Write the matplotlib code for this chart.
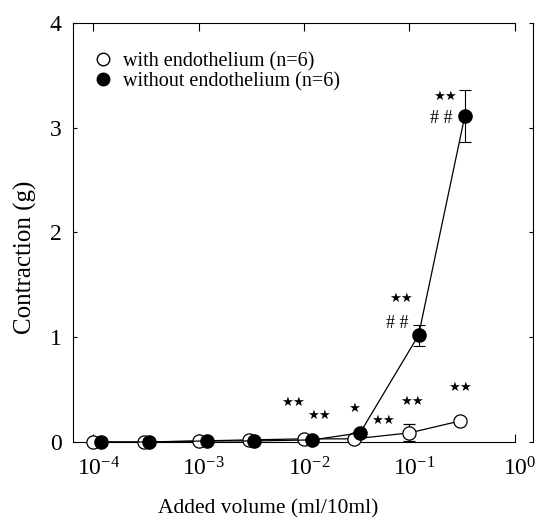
import matplotlib
matplotlib.use('Agg')
import matplotlib.pyplot as plt
from matplotlib.lines import Line2D
from matplotlib.transforms import ScaledTranslation

plt.rcParams['font.family'] = ['Liberation Serif', 'DejaVu Serif']
plt.rcParams['mathtext.fontset'] = 'custom'
plt.rcParams['mathtext.rm'] = 'Liberation Serif'
plt.rcParams['mathtext.it'] = 'Liberation Serif:italic'

# with endothelium (open circles)
x_with = [1e-4, 3e-4, 1e-3, 3e-3, 1e-2, 3e-2, 1e-1, 3e-1]
y_with = [0.0, 0.0, 0.01, 0.02, 0.03, 0.03, 0.087, 0.20]
e_with = [0.01, 0.005, 0.01, 0.01, 0.01, 0.02, 0.08, 0.03]

# without endothelium (filled circles), drawn slightly shifted
x_without = [1.17e-4, 3.35e-4, 1.2e-3, 3.35e-3, 1.2e-2, 3.4e-2, 1.22e-1, 3.35e-1]
y_without = [0.0, 0.0, 0.01, 0.01, 0.02, 0.087, 1.02, 3.11]
e_without = [0.005, 0.005, 0.005, 0.005, 0.01, 0.02, 0.10, 0.25]

labels = ['with endothelium (n=6)', 'without endothelium (n=6)']

xticks = [1e-4, 1e-3, 1e-2, 1e-1, 1e0]
xticklabels = [r'$10^{-4}$', r'$10^{-3}$', r'$10^{-2}$', r'$10^{-1}$', r'$10^{0}$']
yticks = [0, 1, 2, 3, 4]

# significance marks (text, x, y)
marks = [
    ('**', 0.217, 3.30), ('##', 0.202, 3.09),
    ('**', 0.0826, 1.374), ('##', 0.076, 1.126),
    ('**', 0.301, 0.525), ('**', 0.00785, 0.375),
    ('**', 0.0138, 0.258), ('*', 0.0298, 0.324),
    ('**', 0.0557, 0.203), ('**', 0.105, 0.385),
]

fig = plt.figure(figsize=(5.41, 5.20), dpi=100)
ax = fig.add_axes([0.1349, 0.15, 0.9852 - 0.1349, 0.9563 - 0.15])

ax.errorbar(x_with, y_with, yerr=e_with, color='black', lw=0.9,
            marker='o', ms=9.5, mfc='white', mec='black', mew=0.9,
            capsize=4, elinewidth=0.8, capthick=0.8, clip_on=False, zorder=3)
ax.errorbar(x_without, y_without, yerr=e_without, color='black', lw=0.9,
            marker='o', ms=9.5, mfc='black', mec='black',
            capsize=4, elinewidth=0.8, capthick=0.8, clip_on=False, zorder=4)

ax.set_xscale('log')
xmin = 10 ** -4.193
ax.set_xlim(xmin, 10 ** 0.172)
ax.set_ylim(0, 4)
ax.spines['bottom'].set_bounds(xmin, 1)
ax.spines['top'].set_bounds(xmin, 1)
for s in ax.spines.values():
    s.set_linewidth(0.8)

ax.set_xticks(xticks)
ax.set_xticklabels(xticklabels, fontsize=17)
ax.minorticks_off()
ax.tick_params(axis='x', which='major', direction='in', length=6, width=0.8,
               top=True, pad=11)
shift = ScaledTranslation(5 / 100, 0, fig.dpi_scale_trans)
for lab in ax.get_xticklabels():
    lab.set_transform(lab.get_transform() + shift)
ax.set_yticks(yticks)
ax.set_yticklabels([str(v) for v in yticks], fontsize=17)
ax.tick_params(axis='y', direction='in', length=3, width=0.8, right=True, pad=8)

ax.set_xlabel('Added volume (ml/10ml)', fontsize=15.5)
ax.xaxis.set_label_coords(0.425, -0.137)
ax.set_ylabel('Contraction (g)', fontsize=18)
ax.yaxis.set_label_coords(-0.078, 0.44)

for txt, mx, my in marks:
    if txt.startswith('*'):
        ax.text(mx, my, '\u2605' * len(txt), fontsize=9.5, ha='center',
                va='center', family='DejaVu Sans')
    else:
        ax.text(mx, my, ' '.join(txt), fontsize=13, ha='center', va='center')

handles = [
    Line2D([], [], ls='none', marker='o', ms=9, mfc='white', mec='black'),
    Line2D([], [], ls='none', marker='o', ms=9, mfc='black', mec='black'),
]
ax.legend(handles, labels, loc='upper left', bbox_to_anchor=(0.025, 0.95),
          frameon=False, fontsize=14.5, handletextpad=0.5, labelspacing=0.05,
          handlelength=1.0, borderaxespad=0)

fig.savefig('out.png', dpi=100)
